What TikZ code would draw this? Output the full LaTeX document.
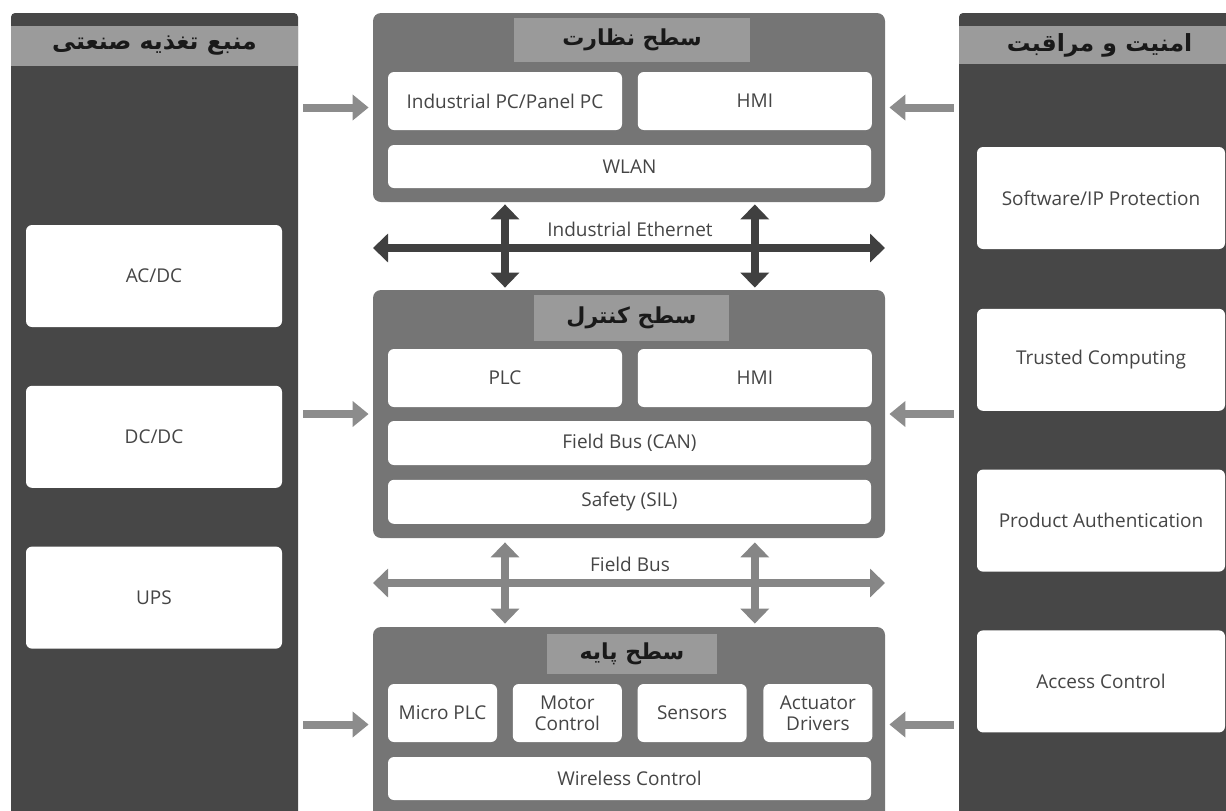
\documentclass[tikz,border=0pt]{standalone}
\usepackage{fontspec}
\setmainfont{Open Sans}
\newfontfamily\fafont[Script=Arabic]{DejaVu Sans}
\usetikzlibrary{arrows.meta,positioning}
\TeXXeTstate=1
\definecolor{panelgray}{HTML}{474747}
\definecolor{headgray}{HTML}{9B9B9B}
\definecolor{levelgray}{HTML}{757575}
\definecolor{bandgray}{HTML}{9A9A9A}
\definecolor{textgray}{HTML}{454545}
\definecolor{ethgray}{HTML}{404040}
\definecolor{busgray}{HTML}{868686}
\definecolor{sidegray}{HTML}{8C8C8C}

\begin{document}
\begin{tikzpicture}[x=0.5pt,y=-0.5pt,
  panel/.style={fill=panelgray,rounded corners=2pt,inner sep=0pt,minimum height=408.5pt},
  head/.style={fill=headgray,inner sep=0pt,text=black!90,font=\fafont\bfseries\fontsize{11.8}{14}\selectfont},
  level/.style={fill=levelgray,rounded corners=4pt,inner sep=0pt,minimum width=256pt},
  band/.style={head,fill=bandgray,font=\fafont\bfseries\fontsize{11}{13}\selectfont},
  item/.style={fill=white,rounded corners=3pt,inner sep=0pt,text=textgray,align=center,
    font=\fontsize{9.5}{10.5}\selectfont},
  sidebox/.style={item,minimum height=51pt},
  cell/.style={item,minimum width=54.5pt,minimum height=29pt},
  ether/.style={{Triangle[width=14pt,length=7.5pt]}-{Triangle[width=14pt,length=7.5pt]},
    line width=4pt,draw=ethgray},
  fbus/.style={ether,draw=busgray},
  side/.style={-{Triangle[width=12.5pt,length=8pt]},line width=4pt,draw=sidegray,
    shorten <=2.5pt,shorten >=2pt},
  buslabel/.style={text=textgray,font=\fontsize{9.5}{11}\selectfont}]

  \useasboundingbox (0,0) rectangle (1226,810);
  \clip (0,0) rectangle (1226,810);

  % power supply column
  \node[panel,minimum width=143.5pt] (pwr) at (154.5,421.5) {};
  \node[head,minimum width=143.5pt,minimum height=20pt] (pwrhead) at (154.5,46) {\beginR منبع تغذیه صنعتی\endR};
  \node[sidebox,minimum width=128pt] (acdc) at (154,276) {AC/DC};
  \node[sidebox,minimum width=128pt] (dcdc) [below=29pt of acdc] {DC/DC};
  \node[sidebox,minimum width=128pt] (ups) [below=29pt of dcdc] {UPS};

  % security column
  \node[panel,minimum width=140.5pt] (sec) at (1099.5,421.5) {};
  \node[head,minimum width=140.5pt,minimum height=19pt] (sechead) at (1099.5,45) {\beginR امنیت و مراقبت\endR};
  \node[sidebox,minimum width=124pt] (swip) at (1101,198) {Software/IP Protection};
  \node[sidebox,minimum width=124pt] (trust) [below=29.5pt of swip] {Trusted Computing};
  \node[sidebox,minimum width=124pt] (auth) [below=29pt of trust] {Product Authentication};
  \node[sidebox,minimum width=124pt] (access) [below=29pt of auth] {Access Control};

  % supervision level
  \node[level,minimum height=94.5pt] (sup) at (629,107.5) {};
  \node[band,minimum width=118pt,minimum height=22pt] (suptitle) at (632,40) {\beginR سطح نظارت\endR};
  \node[item,minimum width=117pt,minimum height=29pt] (ipc) at (505,101) {Industrial PC/Panel PC};
  \node[item,minimum width=117pt,minimum height=29pt] (hmia) [right=7.5pt of ipc] {HMI};
  \node[item,minimum width=241.5pt,minimum height=21.5pt] (wlan) at (629.5,166.5) {WLAN};

  % control level
  \node[level,minimum height=124pt] (ctl) at (629,414) {};
  \node[band,minimum width=97.5pt,minimum height=23pt] (ctltitle) at (631.5,318) {\beginR سطح کنترل\endR};
  \node[item,minimum width=117pt,minimum height=29pt] (plc) at (505,378) {PLC};
  \node[item,minimum width=117pt,minimum height=29pt] (hmib) [right=7.5pt of plc] {HMI};
  \node[item,minimum width=241.5pt,minimum height=22pt] (can) at (629.5,443) {Field Bus (CAN)};
  \node[item,minimum width=241.5pt,minimum height=22pt] (sil) [below=7pt of can] {Safety (SIL)};

  % base level
  \node[level,minimum height=101.5pt] (bas) at (629,728.5) {};
  \node[band,minimum width=85pt,minimum height=20pt] (bastitle) at (632,654) {\beginR سطح پایه\endR};
  \node[cell] (mplc) at (442.5,713) {Micro PLC};
  \node[cell] (motor) [right=7.5pt of mplc] {Motor\\Control};
  \node[cell] (sens) [right=7.5pt of motor] {Sensors};
  \node[cell] (act) [right=8pt of sens] {Actuator\\Drivers};
  \node[item,minimum width=241.5pt,minimum height=21.5pt] (wless) at (629.5,778.5) {Wireless Control};

  % buses
  \coordinate (ethL) at (373,248);
  \coordinate (ethR) at (885,248);
  \draw[ether] (ethL) -- (ethR);
  \draw[ether,shorten <=1pt,shorten >=1pt] (ipc |- sup.south) -- (ipc |- ctl.north);
  \draw[ether,shorten <=1pt,shorten >=1pt] (hmia |- sup.south) -- (hmia |- ctl.north);
  \node[buslabel] (ethlbl) at (630,229) {Industrial Ethernet};

  \coordinate (fbL) at (373,583);
  \coordinate (fbR) at (885,583);
  \draw[fbus] (fbL) -- (fbR);
  \draw[fbus,shorten <=2pt,shorten >=1.5pt] (plc |- ctl.south) -- (plc |- bas.north);
  \draw[fbus,shorten <=2pt,shorten >=1.5pt] (hmib |- ctl.south) -- (hmib |- bas.north);
  \node[buslabel] (fblbl) at (630,564) {Field Bus};

  % side feeds
  \draw[side] (pwr.east |- sup) -- (sup.west);
  \draw[side] (pwr.east |- ctl) -- (ctl.west);
  \draw[side] (pwr.east |- bas) ++(0,-4) coordinate (pb) -- (bas.west |- pb);
  \draw[side] (sec.west |- sup) -- (sup.east);
  \draw[side] (sec.west |- ctl) -- (ctl.east);
  \draw[side] (sec.west |- pb) -- (bas.east |- pb);
\end{tikzpicture}
\end{document}
